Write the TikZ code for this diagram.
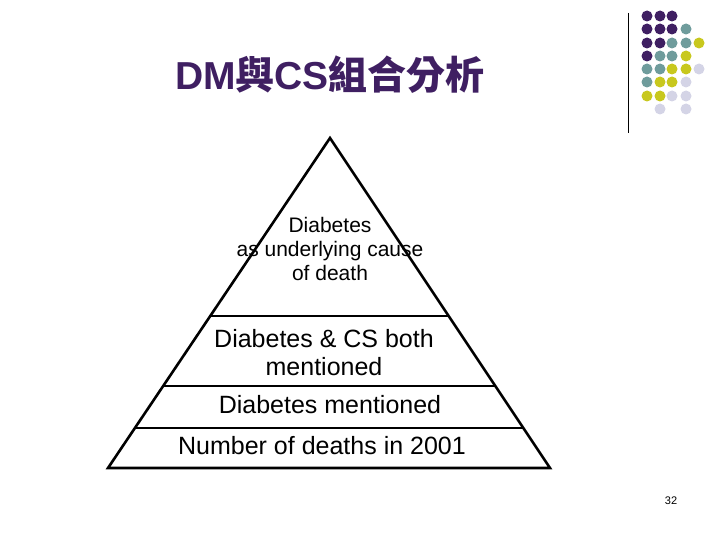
\documentclass[tikz,border=0pt]{standalone}
\usepackage{fontspec}
\setmainfont{Liberation Sans}
\newfontfamily\cjk{Noto Sans CJK TC}
\definecolor{P}{HTML}{3F1F62}
\definecolor{T}{HTML}{6F9C9C}
\definecolor{Y}{HTML}{C8C81E}
\definecolor{L}{HTML}{D4D4E6}
\begin{document}
\begin{tikzpicture}[x=1pt,y=-1pt,
  lbl/.style={align=center,inner sep=0pt,font=\fontsize{25}{28}\selectfont},
  sm/.style={align=center,inner sep=0pt,font=\fontsize{21}{24}\selectfont},
  edge/.style={line width=2.6pt}]
\useasboundingbox (0,0) rectangle (720,540);
\node[text=P,font=\fontsize{39}{44}\selectfont\bfseries] (title) at (330,75) {DM{\cjk\bfseries 與}CS{\cjk\bfseries 組合分析}};
\draw[line width=1pt] (628,13) -- (628,133);
\foreach \c/\x/\y in {P/647/16,P/660/16,P/672/16,
 P/647/29,P/660/29,P/672/29,T/686/29,
 P/647/43,P/660/43,T/672/43,T/686/43,Y/699/43,
 P/647/56,T/660/56,T/672/56,Y/686/56,
 T/647/69,T/660/69,Y/672/69,Y/686/69,L/699/69,
 T/647/82,Y/660/82,Y/672/82,L/686/82,
 Y/647/96,Y/660/96,L/672/96,L/686/96,
 L/660/109,L/686/109}
  \fill[\c] (\x,\y) circle (5.5);
\coordinate (apex) at (330,138);
\coordinate (bl) at (108,468);
\coordinate (br) at (550,468);
\draw[edge,line join=miter] (bl) -- (apex) -- (br) -- cycle;
\coordinate (a1) at (210,316); \coordinate (a2) at (449,316);
\coordinate (b1) at (163,386); \coordinate (b2) at (496,386);
\coordinate (c1) at (135,428); \coordinate (c2) at (524,428);
\draw[edge] (a1) -- (a2);
\draw[edge] (b1) -- (b2);
\draw[edge] (c1) -- (c2);
\node[sm] (t1) at (330,249) {Diabetes\\as underlying cause\\of death};
\node[lbl] (t2) at (324,353) {Diabetes \& CS both\\mentioned};
\node[lbl] (t3) at (330,405) {Diabetes mentioned};
\node[lbl] (t4) at (322,446) {Number of deaths in 2001};
\node[font=\fontsize{11}{12}\selectfont] (pg) at (671,501) {32};
\end{tikzpicture}
\end{document}
